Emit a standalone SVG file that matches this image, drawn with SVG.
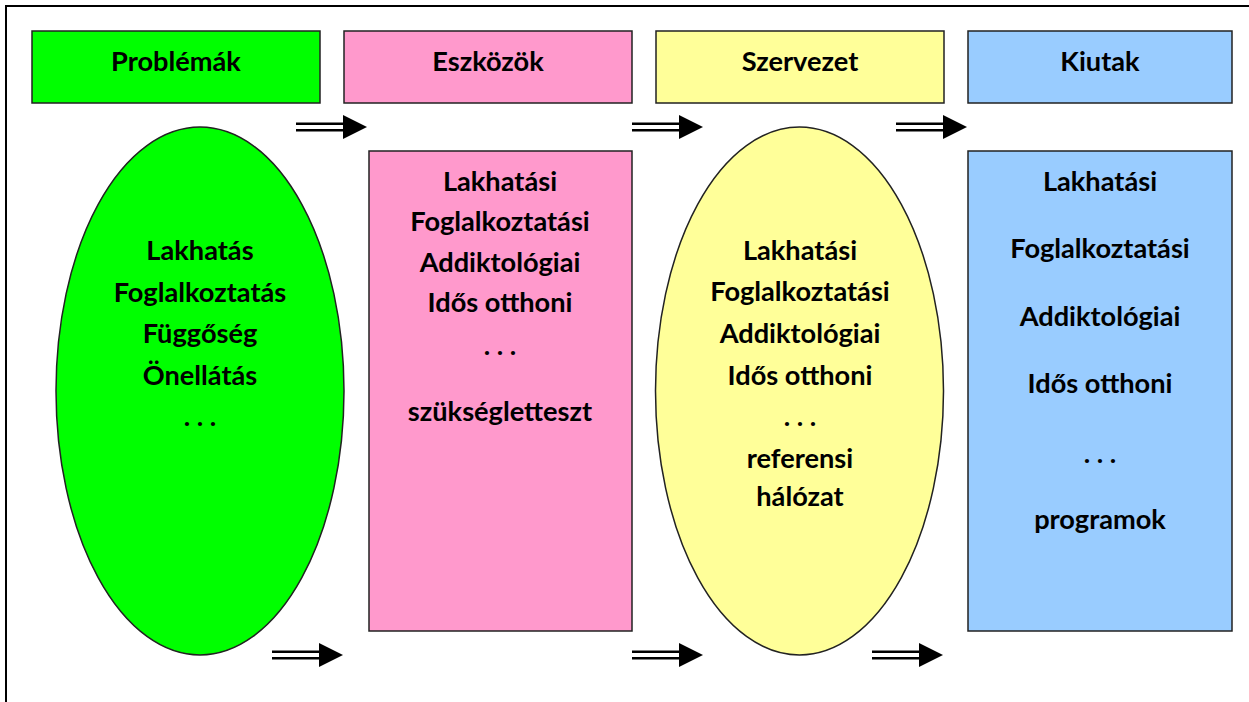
<svg xmlns="http://www.w3.org/2000/svg" width="1249" height="702" viewBox="0 0 1249 702">
  <style>
    .lbl { font-family: Lato, "Liberation Sans", sans-serif; font-weight: 700; font-size: 27.2px; fill: #000; text-anchor: middle; }
    .box { stroke: #222; stroke-width: 1.5; }
    .green { fill: #00FF00; }
    .pink { fill: #FF99CC; }
    .yellow { fill: #FFFF99; }
    .blue { fill: #99CCFF; }
    .shaft { stroke: #000; stroke-width: 2.4; fill: none; }
  </style>
  <defs>
    <!-- double-shafted arrow, tip at origin, pointing right -->
    <g id="dblArrow">
      <path class="shaft" d="M-71,-3.3 H-22 M-71,3.3 H-22"/>
      <polygon points="-24,-12 0,0 -24,12" fill="#000"/>
    </g>
  </defs>

  <rect width="1249" height="702" fill="#fff"/>
  <!-- outer frame -->
  <rect x="6" y="6" width="1260" height="720" fill="none" stroke="#000" stroke-width="2"/>

  <!-- column headers -->
  <g id="hdr-problemak">
    <rect class="box green" x="32" y="31" width="288" height="72"/>
    <text class="lbl" x="176" y="71">Problémák</text>
  </g>
  <g id="hdr-eszkozok">
    <rect class="box pink" x="344" y="31" width="288" height="72"/>
    <text class="lbl" x="488" y="71">Eszközök</text>
  </g>
  <g id="hdr-szervezet">
    <rect class="box yellow" x="656" y="31" width="288" height="72"/>
    <text class="lbl" x="800" y="71">Szervezet</text>
  </g>
  <g id="hdr-kiutak">
    <rect class="box blue" x="968" y="31" width="264" height="72"/>
    <text class="lbl" x="1100" y="71">Kiutak</text>
  </g>

  <!-- problems -->
  <g id="node-problemak">
    <ellipse class="box green" cx="200" cy="391" rx="144" ry="264"/>
    <text class="lbl" x="200" y="260">Lakhatás</text>
    <text class="lbl" x="200" y="302">Foglalkoztatás</text>
    <text class="lbl" x="200" y="343">Függőség</text>
    <text class="lbl" x="200" y="385">Önellátás</text>
    <text class="lbl" x="200" y="426">. . .</text>
  </g>

  <!-- tools -->
  <g id="node-eszkozok">
    <rect class="box pink" x="369" y="151" width="263" height="480"/>
    <text class="lbl" x="500" y="191">Lakhatási</text>
    <text class="lbl" x="500" y="231">Foglalkoztatási</text>
    <text class="lbl" x="500" y="272">Addiktológiai</text>
    <text class="lbl" x="500" y="312">Idős otthoni</text>
    <text class="lbl" x="500" y="355">. . .</text>
    <text class="lbl" x="500" y="421">szükségletteszt</text>
  </g>

  <!-- organisation -->
  <g id="node-szervezet">
    <ellipse class="box yellow" cx="799.5" cy="391" rx="144" ry="264"/>
    <text class="lbl" x="800" y="260">Lakhatási</text>
    <text class="lbl" x="800" y="301">Foglalkoztatási</text>
    <text class="lbl" x="800" y="343">Addiktológiai</text>
    <text class="lbl" x="800" y="385">Idős otthoni</text>
    <text class="lbl" x="800" y="426">. . .</text>
    <text class="lbl" x="800" y="468">referensi</text>
    <text class="lbl" x="800" y="506">hálózat</text>
  </g>

  <!-- ways out -->
  <g id="node-kiutak">
    <rect class="box blue" x="968" y="151" width="264" height="480"/>
    <text class="lbl" x="1100" y="191">Lakhatási</text>
    <text class="lbl" x="1100" y="258">Foglalkoztatási</text>
    <text class="lbl" x="1100" y="326">Addiktológiai</text>
    <text class="lbl" x="1100" y="393">Idős otthoni</text>
    <text class="lbl" x="1100" y="463">. . .</text>
    <text class="lbl" x="1100" y="529">programok</text>
  </g>

  <!-- connectors -->
  <g id="connectors">
    <use href="#dblArrow" x="367" y="127"/>
    <use href="#dblArrow" x="703" y="127"/>
    <use href="#dblArrow" x="967" y="127"/>
    <use href="#dblArrow" x="343" y="655"/>
    <use href="#dblArrow" x="703" y="655"/>
    <use href="#dblArrow" x="943" y="655"/>
  </g>
</svg>
